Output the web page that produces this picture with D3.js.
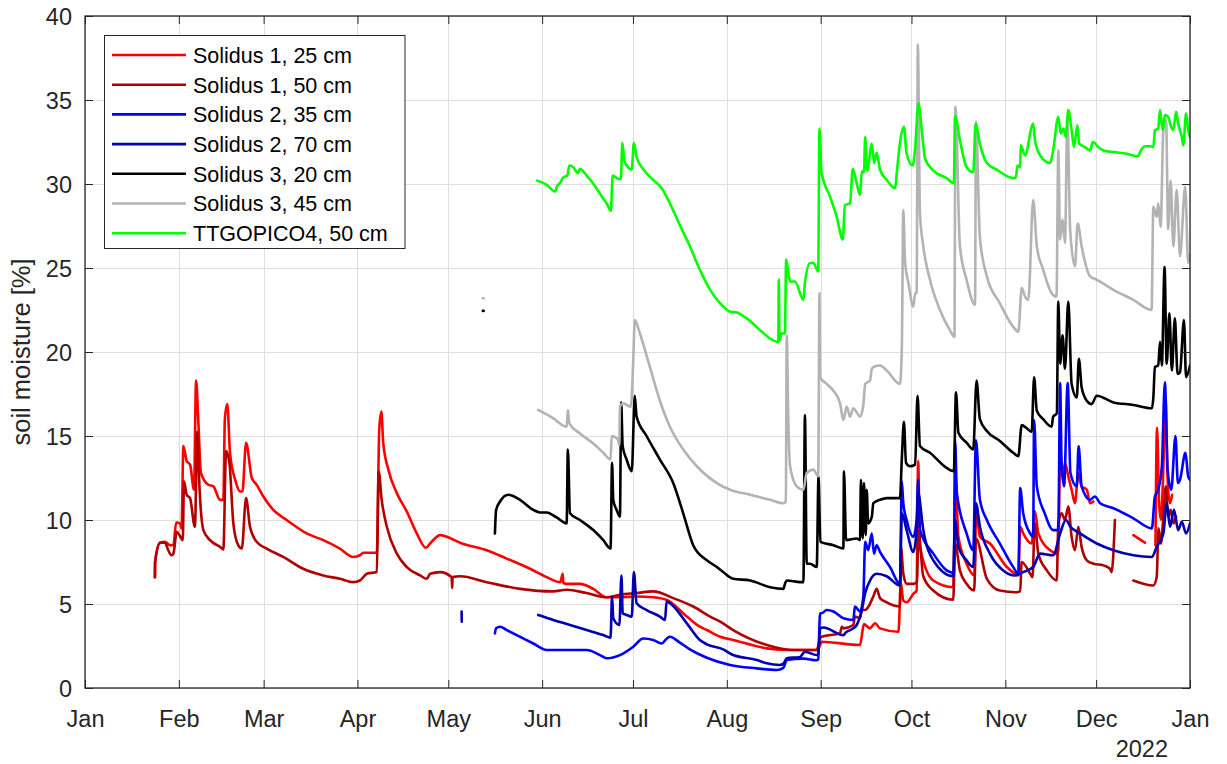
<!DOCTYPE html>
<html>
<head>
<meta charset="utf-8">
<script src="https://cdn.jsdelivr.net/npm/d3@7"></script>
<style>
  html, body { margin: 0; padding: 0; background: #fff; }
  svg { display: block; font-family: "Liberation Sans", Arial, Helvetica, sans-serif; }
</style>
</head>
<body>
<svg id="chart" width="1227" height="764"></svg>
<script>
// Soil moisture records for 2021. Each point is [day of year (0 = 1 Jan 2021), soil moisture %].
// null marks a gap in a record.
const s1_25cm = [
  [23.1,6.6],[23.15,7.5],[24.8,8.65],[26.4,8.7],[28.1,8.5],[29.2,8.5],[30.1,9.85],[31.4,9.8],[31.9,9.5],
  [32.5,14.4],[33.6,13.5],[34.7,13.3],[36.0,11.8],[36.7,18.3],[37.4,16.0],[38.3,12.8],[40.7,12.1],[42.4,12.0],
  [44.6,11.2],[45.7,11.2],[46.2,16.0],[47.0,16.9],[47.9,14.0],[49.6,12.4],[51.2,11.7],[52.0,11.7],[53.2,14.6],
  [55.1,12.5],[56.7,12.1],[58.9,11.4],[62.2,10.6],[66.6,10.0],[73.2,9.2],[78.7,8.8],[84.2,8.3],[88.6,7.8],
  [90.8,7.9],[91.9,8.05],[96.4,8.05],[97.2,15.4],[97.9,16.45],[98.5,14.6],[100.2,13.0],[103.0,11.6],[106.3,10.5],
  [109.6,9.2],[112.6,8.35],[114.0,8.6],[117.3,9.1],[119.5,9.0],[123.9,8.65],[132.7,8.2],[139.3,7.7],[147.0,7.1],
  [152.5,6.6],[157.0,6.3],[157.8,6.8],[158.0,6.25],[159.1,6.2],[163.5,6.2],[167.9,5.9],[172.3,5.4],[176.7,5.4],
  [182.2,5.45],[187.7,5.4],[192.2,5.24],[198.8,4.25],[203.1,3.65],[205.4,3.45],[209.8,3.05],[214.1,2.86],
  [225.2,2.36],[233.0,2.26],[241.7,2.26],[242.8,2.56],[243.3,2.75],[256.0,2.56],[257.3,3.8],[259.3,3.55],
  [261.0,3.85],[262.6,3.55],[268.7,3.35],[269.5,6.25],[270.3,5.2],[271.4,5.1],[273.6,5.6],[274.7,5.8],
  [275.2,13.5],[275.8,8.4],[280.2,6.4],[286.8,6.0],[287.5,12.5],[288.5,9.0],[291.2,7.4],[293.8,6.7],
  [294.4,10.6],[295.6,9.0],[298.9,8.6],[304.5,7.2],[307.2,6.8],[308.3,6.7],[308.9,9.6],[309.9,9.2],[312.7,8.6],
  [313.8,10.5],[314.9,9.2],[318.8,8.2],[321.0,8.0],[321.5,8.2],[322.1,14.0],[323.2,12.6],[323.7,13.4],
  [324.8,12.6],[325.9,11.8],[327.0,11.0],[328.1,12.8],[329.2,12.0],[330.9,11.8],[332.0,11.0],[333.1,11.1],
  null,
  [346.3,9.1],[350.1,8.65],
  null,
  [353.6,8.5],[354.1,15.5],[354.8,11.0],[355.4,10.0],[356.1,12.5],[356.9,17.3],[357.7,12.0],[358.4,11.0],[359.1,11.5]
];

const s1_50cm = [
  [23.1,6.6],[23.15,7.5],[24.8,8.65],[26.4,8.65],[27.5,8.2],[28.6,7.9],[29.2,8.0],[30.3,9.3],[31.2,9.1],[32.3,8.8],
  [32.7,12.3],[33.6,11.5],[34.7,11.3],[36.3,9.6],[37.1,15.25],[37.8,12.0],[39.1,9.4],[41.3,8.8],[44.6,8.4],
  [45.7,8.25],[46.6,14.1],[47.7,13.4],[49.0,9.8],[50.6,8.5],[51.8,8.3],[53.2,11.3],[54.5,9.6],[56.7,8.7],
  [60.0,8.3],[65.5,7.8],[72.1,7.1],[78.7,6.7],[84.2,6.5],[88.6,6.3],[90.8,6.4],[93.1,6.8],[96.4,6.9],[97.0,12.9],
  [98.0,11.2],[99.7,9.6],[103.0,8.0],[106.3,7.2],[110.7,6.7],[112.9,6.5],[114.0,6.8],[117.3,6.9],[121.1,6.6],
  [121.3,5.95],[121.4,6.6],[123.9,6.65],[132.7,6.3],[143.7,5.9],[154.7,5.75],[159.1,5.85],[165.7,5.65],
  [172.3,5.4],[176.7,5.55],[182.2,5.65],[187.7,5.75],[194.3,5.35],[200.9,4.85],[206.5,4.25],[209.8,3.95],
  [214.1,3.45],[225.2,2.56],[234.0,2.26],[241.7,2.26],[242.8,2.95],[243.3,3.05],[249.4,3.25],[250.0,3.65],
  [250.5,3.55],[253.8,3.75],[254.3,4.25],[256.0,4.15],[256.6,4.64],[257.7,4.64],[260.4,5.45],[261.5,5.9],
  [262.6,5.35],[264.8,5.1],[269.2,4.85],[269.5,8.4],[270.3,6.8],[271.4,6.2],[273.6,6.2],[274.8,6.3],[275.3,9.3],
  [276.9,6.65],[280.2,5.8],[286.8,5.25],[287.4,8.6],[289.0,7.0],[291.2,6.2],[293.7,5.8],[294.3,8.9],[297.9,6.5],
  [302.2,5.8],[307.5,5.7],[308.9,5.75],[309.4,7.5],[312.2,6.8],[313.0,6.6],[313.7,9.8],[314.9,8.0],[317.7,7.0],
  [321.0,6.4],[321.5,9.8],[322.6,10.4],[323.7,10.0],[324.8,10.8],[325.9,9.0],[327.0,8.2],[328.1,9.6],[329.2,8.4],
  [330.9,7.6],[333.1,7.4],[336.4,7.3],[338.6,7.1],[339.1,6.9],[340.2,10.0],
  null,
  [346.3,6.4],[352.9,6.1],[354.0,6.6],[354.6,9.5],[355.4,8.6],[356.2,10.2],[357.0,12.0],[357.8,10.2],
  [358.6,10.6],[359.5,9.8],[360.4,10.2]
];

const s2_35cm = [
  [135.4,3.25],[135.8,3.55],[137.1,3.65],[139.3,3.45],[143.7,3.05],[148.1,2.65],[152.5,2.26],[159.1,2.26],
  [165.7,2.26],[170.1,1.96],[172.3,1.77],[176.7,1.96],[181.1,2.46],[184.4,2.95],[187.7,2.86],[190.5,2.65],
  [192.2,2.95],[193.2,3.05],[196.5,2.7],[199.8,2.3],[205.4,1.8],[213.1,1.37],[221.9,1.17],[228.5,1.07],
  [230.7,1.2],[231.8,1.67],[237.3,1.75],[241.7,1.65],[242.2,1.7],[242.8,4.45],[243.3,4.45],[245.0,4.64],
  [247.2,4.55],[250.5,4.15],[253.8,4.05],[254.3,4.85],[256.0,4.55],[257.1,5.45],[257.7,8.7],[258.7,8.2],
  [259.9,9.2],[260.6,8.0],[261.5,8.5],[262.6,8.1],[265.9,7.2],[269.2,6.2],[269.8,12.3],[270.3,11.0],
  [271.4,10.0],[273.6,9.0],[274.7,10.0],[275.2,12.4],[275.8,9.4],[280.2,8.0],[284.6,7.0],[286.8,6.8],
  [287.0,6.65],[287.4,14.75],[288.0,11.6],[291.2,9.2],[293.4,8.2],[294.3,14.75],[295.6,11.2],[297.9,10.0],
  [302.2,8.6],[306.6,7.2],[308.3,6.8],[308.9,11.9],[309.9,10.4],[312.2,9.2],[313.2,9.0],[313.5,15.95],
  [314.4,12.0],[317.0,10.4],[319.8,9.4],[321.5,9.4],[322.1,18.15],[322.6,13.2],[323.4,12.0],[324.6,18.15],
  [325.5,12.8],[327.6,12.0],[328.2,14.4],[329.2,12.0],[332.0,11.2],[333.6,11.4],[335.3,11.0],[339.7,10.7],
  [346.3,10.1],[352.4,9.5],[353.4,11.4],[354.5,11.8],[355.7,13.2],[356.7,18.2],[357.6,13.0],[358.8,11.8],
  [360.2,15.0],[361.0,12.2],[361.7,12.4],[363.5,14.0],[364.4,12.6],[365,12.4]
];

const s2_70cm = [
  [124.4,4.55],[124.45,3.95],
  null,
  [149.7,4.35],[154.7,4.05],[160.2,3.75],[165.7,3.45],[171.2,3.15],[173.6,3.0],[174.1,5.45],[174.5,4.15],
  [176.5,3.75],[177.2,6.7],[177.6,4.45],[178.9,4.35],[180.6,4.25],[181.3,6.9],[182.2,5.05],[185.5,4.64],
  [189.9,4.25],[191.6,4.05],[192.1,5.15],[193.2,5.05],[198.8,3.85],[203.1,2.86],[205.4,2.6],[210.8,2.3],
  [214.1,1.96],[221.9,1.67],[225.2,1.47],[229.5,1.37],[230.7,1.45],[231.8,1.77],[236.2,1.85],[237.8,2.16],
  [241.7,1.96],[242.2,2.0],[242.8,3.55],[243.9,3.6],[250.5,3.15],[251.3,3.3],[253.3,3.5],[254.9,3.75],
  [256.6,4.64],[257.7,5.64],[259.3,6.4],[261.5,6.8],[264.8,6.65],[269.2,6.1],[269.8,10.4],[271.4,9.4],
  [273.6,8.1],[274.7,9.4],[275.2,11.6],[276.9,9.4],[280.2,7.6],[286.8,6.65],[287.4,10.0],[288.5,8.4],
  [291.2,7.6],[293.4,7.2],[294.3,11.0],[295.6,9.6],[298.9,8.0],[303.3,7.0],[307.2,6.7],[309.9,6.9],
  [313.2,7.2],[315.5,8.0],[319.8,7.9],[322.1,9.2],[324.0,10.0],[325.5,9.6],[328.7,9.2],[334.2,8.6],
  [339.7,8.2],[346.3,7.9],[352.4,7.8],[354.0,8.4],[356.2,9.2],[357.3,11.0],[358.4,9.6],[359.7,10.6],
  [361.1,9.4],[362.3,9.9],[363.7,9.2],[365,9.8]
];

const s3_20cm = [
  [131.4,22.45],[131.7,22.45],
  null,
  [135.4,9.2],[135.8,10.6],[137.1,11.1],[139.8,11.5],[143.7,11.2],[148.1,10.6],[150.3,10.45],[152.5,10.45],
  [155.8,10.15],[159.1,9.8],[159.5,14.2],[160.2,10.4],[163.5,10.0],[167.9,9.4],[171.2,8.8],[173.6,8.3],
  [174.1,13.4],[174.5,11.2],[175.6,10.6],[176.7,10.2],[177.1,17.0],[177.6,14.4],[178.9,13.6],[180.6,12.9],
  [181.6,17.4],[182.2,16.15],[185.5,15.0],[189.9,13.6],[194.3,12.2],[197.6,10.4],[200.9,8.5],[205.4,7.6],
  [208.7,7.2],[210.8,6.9],[214.1,6.5],[219.7,6.4],[226.3,6.0],[230.7,5.9],[231.2,6.2],[231.8,6.4],[236.2,6.3],
  [237.3,6.3],[237.8,16.25],[238.4,7.4],[239.5,7.4],[241.7,7.2],[242.3,12.6],[242.9,8.7],[247.2,8.5],
  [250.5,8.3],[250.7,12.9],[251.4,8.8],[254.9,8.9],[256.0,8.8],[256.3,12.4],[256.9,8.9],[257.3,12.2],
  [257.9,9.1],[258.2,11.8],[258.7,9.8],[259.9,10.2],[260.4,11.0],[262.6,11.2],[264.8,11.3],[269.2,11.3],
  [269.8,13.6],[270.5,15.85],[271.2,13.4],[272.5,13.2],[274.2,13.3],[275.0,17.4],[275.8,14.4],[279.1,14.0],
  [284.6,13.1],[287.0,12.9],[287.7,17.6],[288.5,15.2],[291.2,14.6],[293.4,14.2],[294.5,18.3],[295.6,16.0],
  [297.9,15.3],[302.2,14.7],[306.6,14.0],[308.3,13.8],[309.4,15.65],[311.1,15.45],[312.7,15.25],[313.5,18.5],
  [314.4,16.5],[316.5,16.0],[319.3,15.55],[319.8,16.15],[321.0,16.35],[321.5,23.0],[322.1,19.3],[322.9,21.0],
  [323.7,19.0],[324.8,23.0],[325.9,18.1],[327.6,17.3],[328.3,19.6],[329.2,17.9],[330.9,17.1],[332.5,16.9],
  [334.2,17.4],[339.7,17.0],[346.3,16.85],[352.4,16.65],[352.9,17.3],[353.4,19.1],[354.5,19.2],[355.1,20.6],
  [355.7,19.2],[356.6,25.05],[357.3,19.3],[358.2,22.3],[359.0,18.9],[360.0,22.0],[360.9,18.7],[361.7,18.8],
  [363.0,21.9],[363.7,18.5],[365,19.2]
];

const s3_45cm = [
  [131.4,23.2],[131.7,23.2],
  null,
  [149.7,16.55],[154.7,16.05],[159.1,15.55],[159.5,16.55],[160.0,15.75],[163.5,15.15],[167.9,14.55],
  [171.2,14.0],[173.6,13.6],[174.0,15.0],[176.0,14.8],[176.5,14.45],[176.7,16.75],[177.8,16.95],[178.9,16.85],
  [180.3,16.75],[181.1,19.5],[181.6,21.9],[183.3,21.1],[186.6,19.1],[189.9,17.1],[193.2,15.55],[197.6,14.2],
  [202.1,13.2],[208.7,12.2],[213.1,11.8],[219.7,11.5],[226.3,11.2],[230.7,11.0],[231.5,11.1],[231.8,21.0],
  [232.3,16.0],[232.9,13.2],[235.1,12.0],[237.3,11.8],[238.4,12.8],[240.6,13.0],[242.2,12.6],[242.6,23.5],
  [242.8,18.5],[245.0,18.1],[247.2,17.7],[249.4,16.95],[250.5,15.95],[251.6,16.75],[252.7,16.15],[253.8,16.65],
  [254.9,16.4],[256.0,16.15],[257.1,16.85],[257.7,18.1],[259.3,18.3],[259.9,19.0],[261.0,19.15],[262.6,19.2],
  [264.8,18.9],[269.2,18.1],[269.8,20.1],[270.3,28.45],[270.9,25.3],[272.0,24.1],[273.6,22.7],[274.2,23.5],
  [274.7,23.5],[275.1,38.3],[275.8,28.25],[276.9,26.3],[279.1,24.3],[282.4,22.5],[285.7,21.3],[287.2,20.9],
  [287.5,34.6],[289.0,26.3],[291.2,24.3],[294.0,22.8],[294.3,33.7],[295.6,26.8],[297.9,24.5],[302.2,22.9],
  [306.6,21.5],[308.3,21.2],[309.4,23.8],[310.5,23.3],[311.6,23.1],[313.2,29.05],[314.4,26.3],[316.5,24.9],
  [319.3,23.5],[320.9,23.3],[321.5,32.0],[322.1,26.7],[322.9,27.9],[323.7,26.5],[324.5,34.0],[325.4,27.3],
  [327.0,25.1],[327.9,27.65],[329.2,26.3],[332.0,24.5],[334.2,24.3],[339.7,23.7],[346.3,23.1],[352.3,22.5],
  [352.9,28.65],[354.0,28.05],[354.5,28.85],[355.3,27.45],[356.2,33.2],[357.1,33.8],[357.8,27.3],[358.6,30.2],
  [359.5,26.3],[360.6,29.65],[361.7,25.7],[363.4,29.85],[364.4,25.3],[365,25.8]
];

const ttgo_50cm = [
  [149.4,30.2],[152.5,29.95],[155.3,29.55],[156.0,29.9],[156.9,30.05],[158.0,30.4],[159.3,30.5],[160.0,31.1],
  [161.3,31.0],[162.8,30.65],[163.5,30.9],[165.7,30.5],[168.4,29.9],[170.7,29.25],[172.3,28.85],[173.7,28.4],
  [174.3,30.5],[176.2,30.3],[177.0,30.3],[177.5,32.45],[178.2,31.35],[180.6,30.85],[181.3,32.45],[182.2,31.6],
  [185.0,30.75],[187.7,30.25],[190.5,29.75],[193.2,28.85],[196.5,27.55],[199.8,26.3],[203.1,24.9],[206.5,23.7],
  [209.8,22.9],[213.1,22.4],[215.3,22.35],[218.6,22.0],[223.0,21.3],[226.3,20.8],[229.0,20.6],[229.2,24.3],
  [229.4,20.7],[230.1,21.1],[231.2,21.1],[231.6,25.5],[232.9,24.2],[234.5,24.2],[237.3,23.1],[237.8,24.1],
  [239.5,25.3],[240.6,25.3],[242.2,24.8],[242.6,33.3],[243.3,30.7],[246.1,29.25],[248.3,28.05],[250.3,26.7],
  [251.0,28.75],[252.7,28.85],[253.6,30.9],[254.9,30.05],[256.0,29.35],[256.6,30.75],[257.3,30.7],[257.7,32.8],
  [258.4,30.8],[259.9,32.4],[260.7,31.25],[261.5,31.85],[262.6,30.85],[264.8,30.25],[267.6,29.75],[268.1,30.6],
  [269.4,32.7],[270.5,33.4],[271.4,31.8],[273.4,31.1],[274.2,32.1],[275.3,34.8],[276.4,33.2],[277.5,31.5],
  [280.2,30.8],[284.6,30.35],[287.0,30.05],[287.4,34.05],[289.0,32.6],[291.2,31.0],[293.4,30.7],[294.2,33.6],
  [295.6,32.4],[297.9,31.25],[301.2,30.85],[306.6,30.35],[307.5,30.4],[308.0,31.1],[308.9,31.0],[309.1,32.3],
  [310.5,31.7],[313.2,33.6],[313.8,32.6],[315.5,31.7],[318.8,31.25],[319.8,32.0],[321.5,34.0],[322.3,33.0],
  [323.2,33.3],[324.0,32.8],[324.8,34.4],[325.9,33.2],[326.7,32.2],[327.8,33.5],[328.4,32.4],[330.3,32.2],
  [332.0,32.0],[332.9,32.5],[334.7,32.2],[336.4,32.0],[339.7,31.9],[344.1,31.8],[347.9,31.65],[348.5,31.9],
  [350.1,32.25],[351.8,32.25],[352.9,32.2],[353.4,33.2],[354.5,33.3],[355.1,34.4],[356.0,33.2],[356.7,34.1],
  [357.8,34.0],[358.6,33.5],[359.5,33.2],[360.4,34.3],[361.1,33.6],[362.3,32.8],[362.8,32.3],[363.7,34.2],
  [364.4,33.2],[365,32.8]
];

const seriesNames = [
  "Solidus 1, 25 cm", "Solidus 1, 50 cm", "Solidus 2, 35 cm", "Solidus 2, 70 cm",
  "Solidus 3, 20 cm", "Solidus 3, 45 cm", "TTGOPICO4, 50 cm"
];
const seriesColors = ["#ff0000", "#b00000", "#0000ff", "#0000b0", "#000000", "#b3b3b3", "#00ff00"];
const seriesData = [s1_25cm, s1_50cm, s2_35cm, s2_70cm, s3_20cm, s3_45cm, ttgo_50cm];

const yTicks = [0, 5, 10, 15, 20, 25, 30, 35, 40];
const yLabel = "soil moisture [%]";
const yearLabel = "2022";

// ---- layout ----
const svg = d3.select("#chart");
const plotL = 85, plotR = 1190, plotT = 16, plotB = 688;
const axisColor = "#262626";
const gridColor = "#dfdfdf";
const lineWidth = 2.6;

const startDate = new Date(2021, 0, 1);
const endDate = new Date(2022, 0, 1);
const toDate = doy => new Date(startDate.getTime() + doy * 86400000);

const x = d3.scaleTime().domain([startDate, endDate]).range([plotL, plotR]);
const y = d3.scaleLinear().domain([0, 40]).range([plotB, plotT]);
const monthTicks = d3.timeMonth.range(startDate, d3.timeDay.offset(endDate, 1));

// grid
const grid = svg.append("g");
grid.selectAll("line.gx").data(monthTicks).join("line")
  .attr("x1", d => Math.round(x(d)) + 0.5).attr("x2", d => Math.round(x(d)) + 0.5)
  .attr("y1", plotT).attr("y2", plotB)
  .attr("stroke", gridColor).attr("stroke-width", 1);
grid.selectAll("line.gy").data(yTicks).join("line")
  .attr("x1", plotL).attr("x2", plotR)
  .attr("y1", d => Math.round(y(d)) + 0.5).attr("y2", d => Math.round(y(d)) + 0.5)
  .attr("stroke", gridColor).attr("stroke-width", 1);

// series
svg.append("clipPath").attr("id", "plotClip")
  .append("rect").attr("x", plotL).attr("y", plotT).attr("width", plotR - plotL).attr("height", plotB - plotT);

const line = d3.line()
  .defined(d => d !== null)
  .curve(d3.curveMonotoneX)
  .x(d => x(toDate(d[0])))
  .y(d => y(d[1]));

const plot = svg.append("g").attr("clip-path", "url(#plotClip)");
seriesData.forEach((data, i) => {
  plot.append("path")
    .datum(data)
    .attr("d", line)
    .attr("fill", "none")
    .attr("stroke", seriesColors[i])
    .attr("stroke-width", lineWidth)
    .attr("stroke-linejoin", "round")
    .attr("stroke-linecap", "round");
});

// axes (box with inward ticks on all four sides)
const tickLen = 8;
svg.append("rect").attr("x", plotL).attr("y", plotT).attr("width", plotR - plotL).attr("height", plotB - plotT)
  .attr("fill", "none").attr("stroke", axisColor).attr("stroke-width", 1.3);

const xAxisBottom = d3.axisBottom(x).tickValues(monthTicks).tickFormat(d3.timeFormat("%b"))
  .tickSizeInner(-tickLen).tickSizeOuter(0).tickPadding(22);
const xAxisTop = d3.axisTop(x).tickValues(monthTicks).tickFormat("")
  .tickSizeInner(-tickLen).tickSizeOuter(0);
const yAxisLeft = d3.axisLeft(y).tickValues(yTicks).tickFormat(d3.format("d"))
  .tickSizeInner(-tickLen).tickSizeOuter(0).tickPadding(21);
const yAxisRight = d3.axisRight(y).tickValues(yTicks).tickFormat("")
  .tickSizeInner(-tickLen).tickSizeOuter(0);

function styleAxis(g) {
  g.select(".domain").remove();
  g.selectAll(".tick line").attr("stroke", axisColor);
  g.selectAll(".tick text").attr("fill", axisColor)
    .attr("font-family", "'Liberation Sans', Arial, Helvetica, sans-serif");
}

svg.append("g").attr("transform", `translate(0,${plotB})`).call(xAxisBottom).call(styleAxis)
  .selectAll(".tick text").attr("font-size", 23.5).attr("dy", "0.71em").attr("y", 22);
svg.append("g").attr("transform", `translate(0,${plotT})`).call(xAxisTop).call(styleAxis);
svg.append("g").attr("transform", `translate(${plotL},0)`).call(yAxisLeft).call(styleAxis)
  .selectAll(".tick text").attr("font-size", 23.5).attr("x", -13).attr("dy", "0.35em");
svg.append("g").attr("transform", `translate(${plotR},0)`).call(yAxisRight).call(styleAxis);

// year label
svg.append("text")
  .attr("x", 1168).attr("y", 757)
  .attr("text-anchor", "end")
  .attr("font-size", 23.5)
  .attr("fill", axisColor)
  .text(yearLabel);

// y label
svg.append("text")
  .attr("transform", `translate(30,${(plotT + plotB) / 2}) rotate(-90)`)
  .attr("text-anchor", "middle")
  .attr("font-size", 25.5)
  .attr("fill", axisColor)
  .text(yLabel);

// legend
const legend = svg.append("g");
legend.append("rect")
  .attr("x", 104.5).attr("y", 35.5).attr("width", 300.5).attr("height", 213)
  .attr("fill", "#fff").attr("stroke", axisColor).attr("stroke-width", 1);
seriesNames.forEach((name, i) => {
  const cy = 55 + i * 29.7;
  legend.append("line")
    .attr("x1", 112).attr("x2", 186).attr("y1", cy).attr("y2", cy)
    .attr("stroke", seriesColors[i]).attr("stroke-width", lineWidth);
  legend.append("text")
    .attr("x", 193).attr("y", cy + 7.8)
    .attr("font-size", 21.5)
    .attr("fill", "#000")
    .text(name);
});
</script>
</body>
</html>
